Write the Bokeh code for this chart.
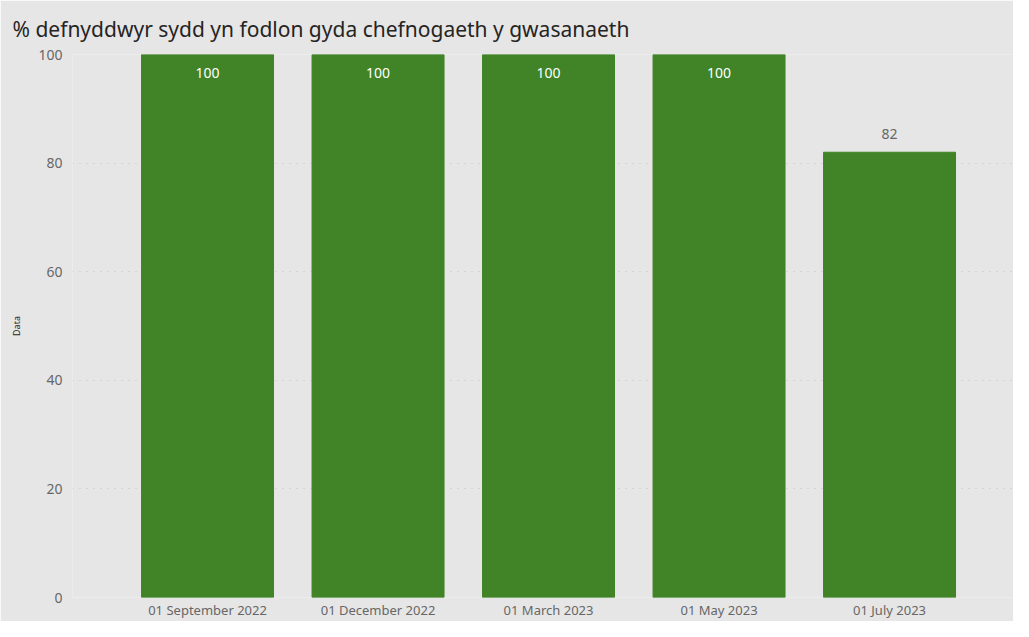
from bokeh.plotting import figure
from bokeh.models import ColumnDataSource, FixedTicker, Range1d, LabelSet
from bokeh.core.properties import value
from bokeh.embed import file_html
from bokeh.resources import INLINE

categories = ["01 September 2022", "01 December 2022", "01 March 2023", "01 May 2023", "01 July 2023"]
values = [100, 100, 100, 100, 82]
y_ticks = [0, 20, 40, 60, 80, 100]
title_text = "% defnyddwyr sydd yn fodlon gyda chefnogaeth y gwasanaeth"
y_label = "Data"

BG = "#e6e6e6"
GREEN = "#408427"
FONT = "Noto Sans"

xs = list(range(len(categories)))
src = ColumnDataSource(dict(x=xs, v=values))

p = figure(width=1013, height=621, output_backend="svg", toolbar_location=None,
           x_range=Range1d(-0.792, 4.727), y_range=Range1d(0, 100),
           min_border_left=72, min_border_right=0, min_border_top=54, min_border_bottom=24)
p.background_fill_color = BG
p.border_fill_color = BG
p.outline_line_color = None

p.title.text = title_text
p.title.text_font = FONT
p.title.text_font_size = "21px"
p.title.text_font_style = "normal"
p.title.text_color = "#252423"
p.title.offset = -60
p.title.standoff = 24

p.vbar(x="x", top="v", width=0.774, bottom=0, source=src, fill_color=GREEN, line_color=GREEN)

inside = [i for i, v in enumerate(values) if v >= 95]
outside = [i for i, v in enumerate(values) if v < 95]
src_in = ColumnDataSource(dict(x=[xs[i] for i in inside], v=[values[i] for i in inside],
                               lab=[str(values[i]) for i in inside]))
src_out = ColumnDataSource(dict(x=[xs[i] for i in outside], v=[values[i] for i in outside],
                                lab=[str(values[i]) for i in outside]))
p.add_layout(LabelSet(x="x", y="v", text="lab", source=src_in, y_offset=-18,
                      text_align="center", text_baseline="middle", text_color="white",
                      text_font=value(FONT), text_font_size="14px"))
p.add_layout(LabelSet(x="x", y="v", text="lab", source=src_out, y_offset=18,
                      text_align="center", text_baseline="middle", text_color="#666666",
                      text_font=value(FONT), text_font_size="14px"))

p.xaxis.ticker = FixedTicker(ticks=xs)
p.xaxis.major_label_overrides = {i: c for i, c in enumerate(categories)}
p.yaxis.ticker = FixedTicker(ticks=y_ticks)
for ax in (p.xaxis[0], p.yaxis[0]):
    ax.axis_line_color = None
    ax.major_tick_line_color = None
    ax.minor_tick_line_color = None
    ax.major_tick_out = 0
    ax.major_tick_in = 0
    ax.minor_tick_out = 0
    ax.minor_tick_in = 0
    ax.major_label_text_font = FONT
    ax.major_label_text_color = "#666666"
p.xaxis.major_label_text_font_size = "13px"
p.yaxis.major_label_text_font_size = "14px"
p.xaxis.major_label_standoff = 3
p.yaxis.major_label_standoff = 10
p.yaxis.axis_label = y_label
p.yaxis.axis_label_text_font = FONT
p.yaxis.axis_label_text_font_size = "9px"
p.yaxis.axis_label_text_font_style = "normal"
p.yaxis.axis_label_text_color = "#252423"
p.yaxis.axis_label_standoff = 12

p.xgrid.grid_line_color = None
p.ygrid.grid_line_color = "#c4c4c4"
p.ygrid.grid_line_dash = "1 6"

open("out.html", "w").write(file_html(p, INLINE))
